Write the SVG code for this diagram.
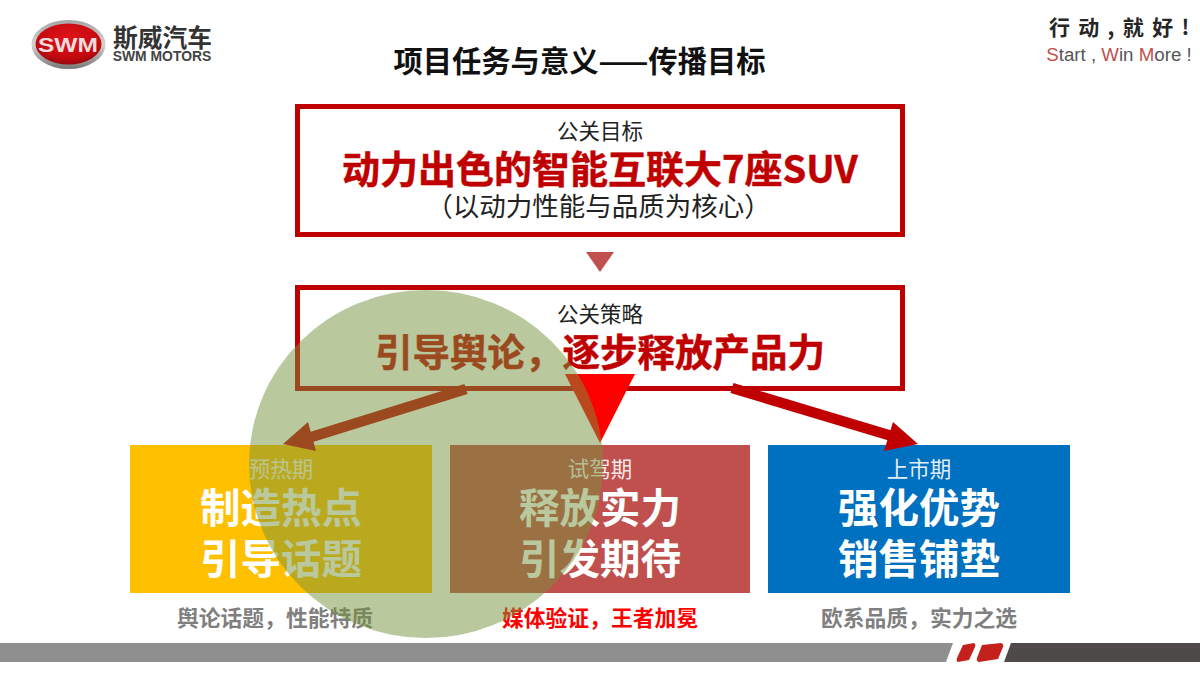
<svg xmlns="http://www.w3.org/2000/svg" width="1200" height="675" viewBox="0 0 1200 675">
<defs>
<radialGradient id="red" cx=".5" cy=".35" r=".7"><stop offset="0" stop-color="#e0141a"/><stop offset=".7" stop-color="#c4090f"/><stop offset="1" stop-color="#8a0a0c"/></radialGradient>
<linearGradient id="rim" x1="0" y1="0" x2="0" y2="1"><stop offset="0" stop-color="#a5a5a5"/><stop offset=".5" stop-color="#d8d0d0"/><stop offset="1" stop-color="#777"/></linearGradient>
</defs>
<style>
text{font-family:"Noto Sans CJK SC","Liberation Sans",sans-serif;text-anchor:middle}
.box{fill:#fff;stroke:#c00000;stroke-width:5}
.small{font-size:21.500px;fill:#222}
.big{font-size:37.500px;font-weight:700;fill:#c00000;stroke:#c00000;stroke-width:.5}
.h{font-size:40.500px;font-weight:700;fill:#fff}
.p{font-size:21.500px;fill:#fff;fill-opacity:.9}
.s{font-size:21.800px;font-weight:700;fill:#7f7f7f}
</style>
<rect width="1200" height="675" fill="#fff"/>
<g id="logo">
<ellipse cx="68.500" cy="44.500" rx="37" ry="24.500" fill="url(#rim)"/>
<ellipse cx="68.500" cy="44" rx="33" ry="20.500" fill="url(#red)"/>
<text x="68" y="52" textLength="60" lengthAdjust="spacingAndGlyphs" style="font-family:'Liberation Sans',sans-serif;font-size:21px;font-weight:700;fill:#f0dcdc">SWM</text>
<text x="162.500" y="47" style="font-size:24.700px;font-weight:700;fill:#333">斯威汽车</text>
<text x="162" y="61" style="font-family:'Liberation Sans',sans-serif;font-size:13.900px;font-weight:700;fill:#444">SWM MOTORS</text>
</g>
<g id="slogan">
<text x="1120" y="35" style="font-size:21px;font-weight:700;fill:#262626;letter-spacing:1.800px">行 动 , 就 好 !</text>
<text x="1119" y="61" style="font-family:'Liberation Sans',sans-serif;font-size:18.700px;fill:#555"><tspan fill="#c0504d">S</tspan>tart , <tspan fill="#c0504d">W</tspan>in <tspan fill="#c0504d">M</tspan>ore !</text>
</g>
<text id="title" x="579.500" y="72" style="font-size:29.300px;font-weight:700;fill:#111">项目任务与意义——传播目标</text>
<g id="goal">
<rect class="box" x="297.500" y="106.500" width="605" height="128"/>
<text class="small" x="600" y="139">公关目标</text>
<text class="big" x="600" y="183" style="font-size:38px">动力出色的智能互联大7座SUV</text>
<text x="598.500" y="216" style="font-size:26.500px;fill:#222">（以动力性能与品质为核心）</text>
</g>
<polygon id="down-arrow" points="586,252 614,252 600,272" fill="#c0504d"/>
<g id="strategy">
<rect class="box" x="297.500" y="287.500" width="605" height="101"/>
<text class="small" x="600" y="322">公关策略</text>
<text class="big" x="600" y="366">引导舆论，逐步释放产品力</text>
</g>
<g id="stage1">
<rect x="130" y="445" width="302" height="148" fill="#ffc000"/>
<text class="p" x="281" y="477">预热期</text>
<text class="h" x="281" y="523">制造热点</text>
<text class="h" x="281" y="574">引导话题</text>
<text class="s" x="275" y="626">舆论话题，性能特质</text>
</g>
<g id="stage2">
<rect x="450" y="445" width="300" height="148" fill="#c0504d"/>
<text class="p" x="600" y="477">试驾期</text>
<text class="h" x="600" y="523">释放实力</text>
<text class="h" x="600" y="574">引发期待</text>
<text class="s" x="600" y="626" style="fill:#f00">媒体验证，王者加冕</text>
</g>
<g id="stage3">
<rect x="768" y="445" width="302" height="148" fill="#0070c0"/>
<text class="p" x="919" y="477">上市期</text>
<text class="h" x="919" y="523">强化优势</text>
<text class="h" x="919" y="574">销售铺垫</text>
<text class="s" x="919" y="626">欧系品质，实力之选</text>
</g>
<g id="connectors">
<line x1="466" y1="389" x2="305" y2="439" stroke="#c00000" stroke-width="10.500"/>
<polygon points="283,444 308,422 316,451" fill="#c00000"/>
<polygon points="565,374 635,374 600,443" fill="#f00"/>
<line x1="732" y1="388" x2="895" y2="437" stroke="#c00000" stroke-width="10.500"/>
<polygon points="918,444 893,422 884,451" fill="#c00000"/>
</g>
<g id="footer">
<polygon points="0,643 953,643 946,662 0,662" fill="#8f8f8f"/>
<path d="M963,645 L974,643 Q976,644 975,647 L969,660 L958,662 Q956,661 957,658 Z" fill="#c4201c"/>
<path d="M982,645 L1001,643 Q1004,644 1003,647 L998,659 L979,662 Q976,661 977,658 Z" fill="#c4201c"/>
<polygon points="1011,643 1200,643 1200,662 1004,662" fill="#4f4a4a"/>
</g>
<ellipse id="overlay" cx="426" cy="464" rx="177" ry="174" fill="#76923c" fill-opacity=".5"/>
</svg>
